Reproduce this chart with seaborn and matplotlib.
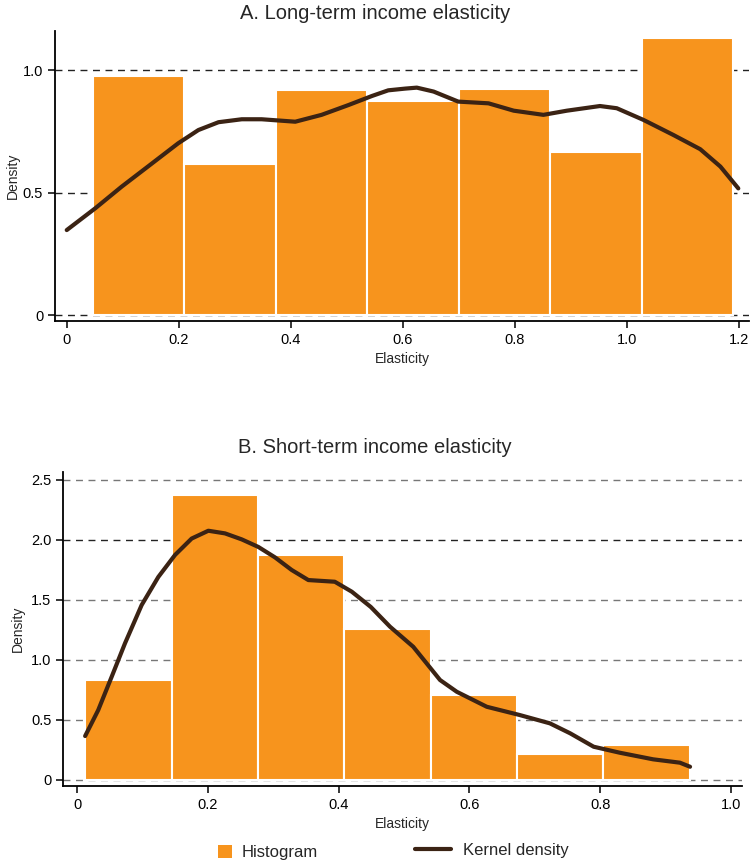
import numpy as np
import pandas as pd
import matplotlib
matplotlib.use("Agg")
import matplotlib.pyplot as plt
import seaborn as sns
from matplotlib.patches import Patch
from matplotlib.lines import Line2D

# ==========================================
# DATA
# ==========================================
# Panel A: long-term income elasticity
long_edges = [0.046, 0.2095, 0.373, 0.5365, 0.700, 0.8635, 1.027, 1.190]
long_heights = [0.977, 0.617, 0.920, 0.875, 0.924, 0.667, 1.130]
long_kde_x = [0.0, 0.051, 0.098, 0.146, 0.199, 0.235, 0.271, 0.3125, 0.348,
              0.408, 0.455, 0.503, 0.545, 0.574, 0.604, 0.625, 0.655, 0.699,
              0.753, 0.798, 0.851, 0.893, 0.952, 0.982, 1.03, 1.083, 1.131,
              1.167, 1.199]
long_kde_y = [0.348, 0.437, 0.525, 0.609, 0.702, 0.756, 0.788, 0.80, 0.80,
              0.79, 0.818, 0.858, 0.895, 0.918, 0.925, 0.929, 0.913, 0.872,
              0.865, 0.835, 0.818, 0.835, 0.854, 0.845, 0.797, 0.736, 0.678,
              0.607, 0.518]

# Panel B: short-term income elasticity
short_edges = [0.0122, 0.1443, 0.2764, 0.4085, 0.5406, 0.6727, 0.8048, 0.9369]
short_heights = [0.835, 2.376, 1.873, 1.258, 0.703, 0.211, 0.293]
short_kde_x = [0.012, 0.032, 0.0526, 0.073, 0.0985, 0.124, 0.1495, 0.175,
               0.2005, 0.226, 0.2516, 0.277, 0.3025, 0.328, 0.3535, 0.394,
               0.42, 0.449, 0.4785, 0.514, 0.555, 0.5806, 0.6265, 0.677,
               0.723, 0.754, 0.79, 0.83, 0.881, 0.922, 0.9375]
short_kde_y = [0.364, 0.58, 0.858, 1.137, 1.456, 1.69, 1.873, 2.01, 2.075,
               2.053, 2.003, 1.94, 1.853, 1.748, 1.664, 1.65, 1.567, 1.44,
               1.275, 1.108, 0.831, 0.733, 0.608, 0.539, 0.47, 0.387, 0.275,
               0.225, 0.17, 0.142, 0.108]

titles = ["A. Long-term income elasticity", "B. Short-term income elasticity"]
legend_labels = ["Histogram", "Kernel density"]

# ==========================================
# STYLE
# ==========================================
sns.set_style("white")
plt.rcParams['font.family'] = ['Liberation Sans', 'DejaVu Sans']

BAR = "#F7941D"
LINE = "#3B2314"

fig = plt.figure(figsize=(7.5, 8.66), dpi=100)
ax_a = fig.add_axes([0.0733, 0.6293, 0.9253, 0.3349])
ax_b = fig.add_axes([0.0844, 0.0927, 0.9046, 0.3626])


def draw_panel(ax, edges, heights, kde_x, kde_y, yticks, ytick_labels,
               xticks, xtick_labels, xlim, ylim, grid_colors):
    centers = [(a + b) / 2 for a, b in zip(edges[:-1], edges[1:])]
    for yt, gc in zip(yticks, grid_colors):
        ax.axhline(yt, color=gc, lw=1.0, ls=(0, (5, 4)), zorder=0)
    sns.histplot(x=centers, weights=heights, bins=edges, stat="count",
                 color=BAR, alpha=1, edgecolor="white", linewidth=1.5,
                 ax=ax, zorder=2)
    sns.lineplot(x=kde_x, y=kde_y, color=LINE, lw=3, ax=ax, zorder=3)
    ax.set_xlim(*xlim)
    ax.set_ylim(*ylim)
    ax.set_xticks(xticks)
    ax.set_xticklabels(xtick_labels, fontsize=10.5)
    ax.set_yticks(yticks)
    ax.set_yticklabels(ytick_labels, fontsize=10.5)
    ax.set_xlabel("Elasticity", fontsize=10)
    ax.set_ylabel("Density", fontsize=10)
    for s in ["top", "right"]:
        ax.spines[s].set_visible(False)
    for s in ["left", "bottom"]:
        ax.spines[s].set_color("black")
        ax.spines[s].set_linewidth(1.3)
    ax.tick_params(axis="both", direction="out", length=5, width=1.1,
                   color="black", labelcolor="black", left=True, bottom=True)


draw_panel(ax_a, long_edges, long_heights, long_kde_x, long_kde_y,
           [0, 0.5, 1.0], ["0", "0.5", "1.0"],
           [0, 0.2, 0.4, 0.6, 0.8, 1.0, 1.2],
           ["0", "0.2", "0.4", "0.6", "0.8", "1.0", "1.2"],
           (-0.021, 1.218), (-0.023, 1.16),
           ["#222222", "#222222", "#222222"])
ax_a.yaxis.set_label_coords(-0.051, 0.5)

draw_panel(ax_b, short_edges, short_heights, short_kde_x, short_kde_y,
           [0, 0.5, 1.0, 1.5, 2.0, 2.5], ["0", "0.5", "1.0", "1.5", "2.0", "2.5"],
           [0, 0.2, 0.4, 0.6, 0.8, 1.0],
           ["0", "0.2", "0.4", "0.6", "0.8", "1.0"],
           (-0.0214, 1.0166), (-0.05, 2.567),
           ["#777777", "#777777", "#777777", "#777777", "#222222", "#777777"])
ax_b.yaxis.set_label_coords(-0.056, 0.5)

fig.text(0.5, 0.984, titles[0], ha="center", va="center", fontsize=14.5)
fig.text(0.5, 0.483, titles[1], ha="center", va="center", fontsize=14.5)

# legend: two separate entries so each handle keeps its own size
leg1 = fig.legend([Patch(facecolor=BAR, edgecolor="none")], [legend_labels[0]],
                  loc="center left", bbox_to_anchor=(0.291, 0.0155),
                  frameon=False, fontsize=12, handlelength=0.8,
                  handleheight=0.8, handletextpad=0.6, borderpad=0,
                  borderaxespad=0)
leg2 = fig.legend([Line2D([0], [0], color=LINE, lw=3)], [legend_labels[1]],
                  loc="center left", bbox_to_anchor=(0.553, 0.018),
                  frameon=False, fontsize=12, handlelength=2.2,
                  handletextpad=0.7, borderpad=0, borderaxespad=0)

fig.savefig("out.png", dpi=100)
